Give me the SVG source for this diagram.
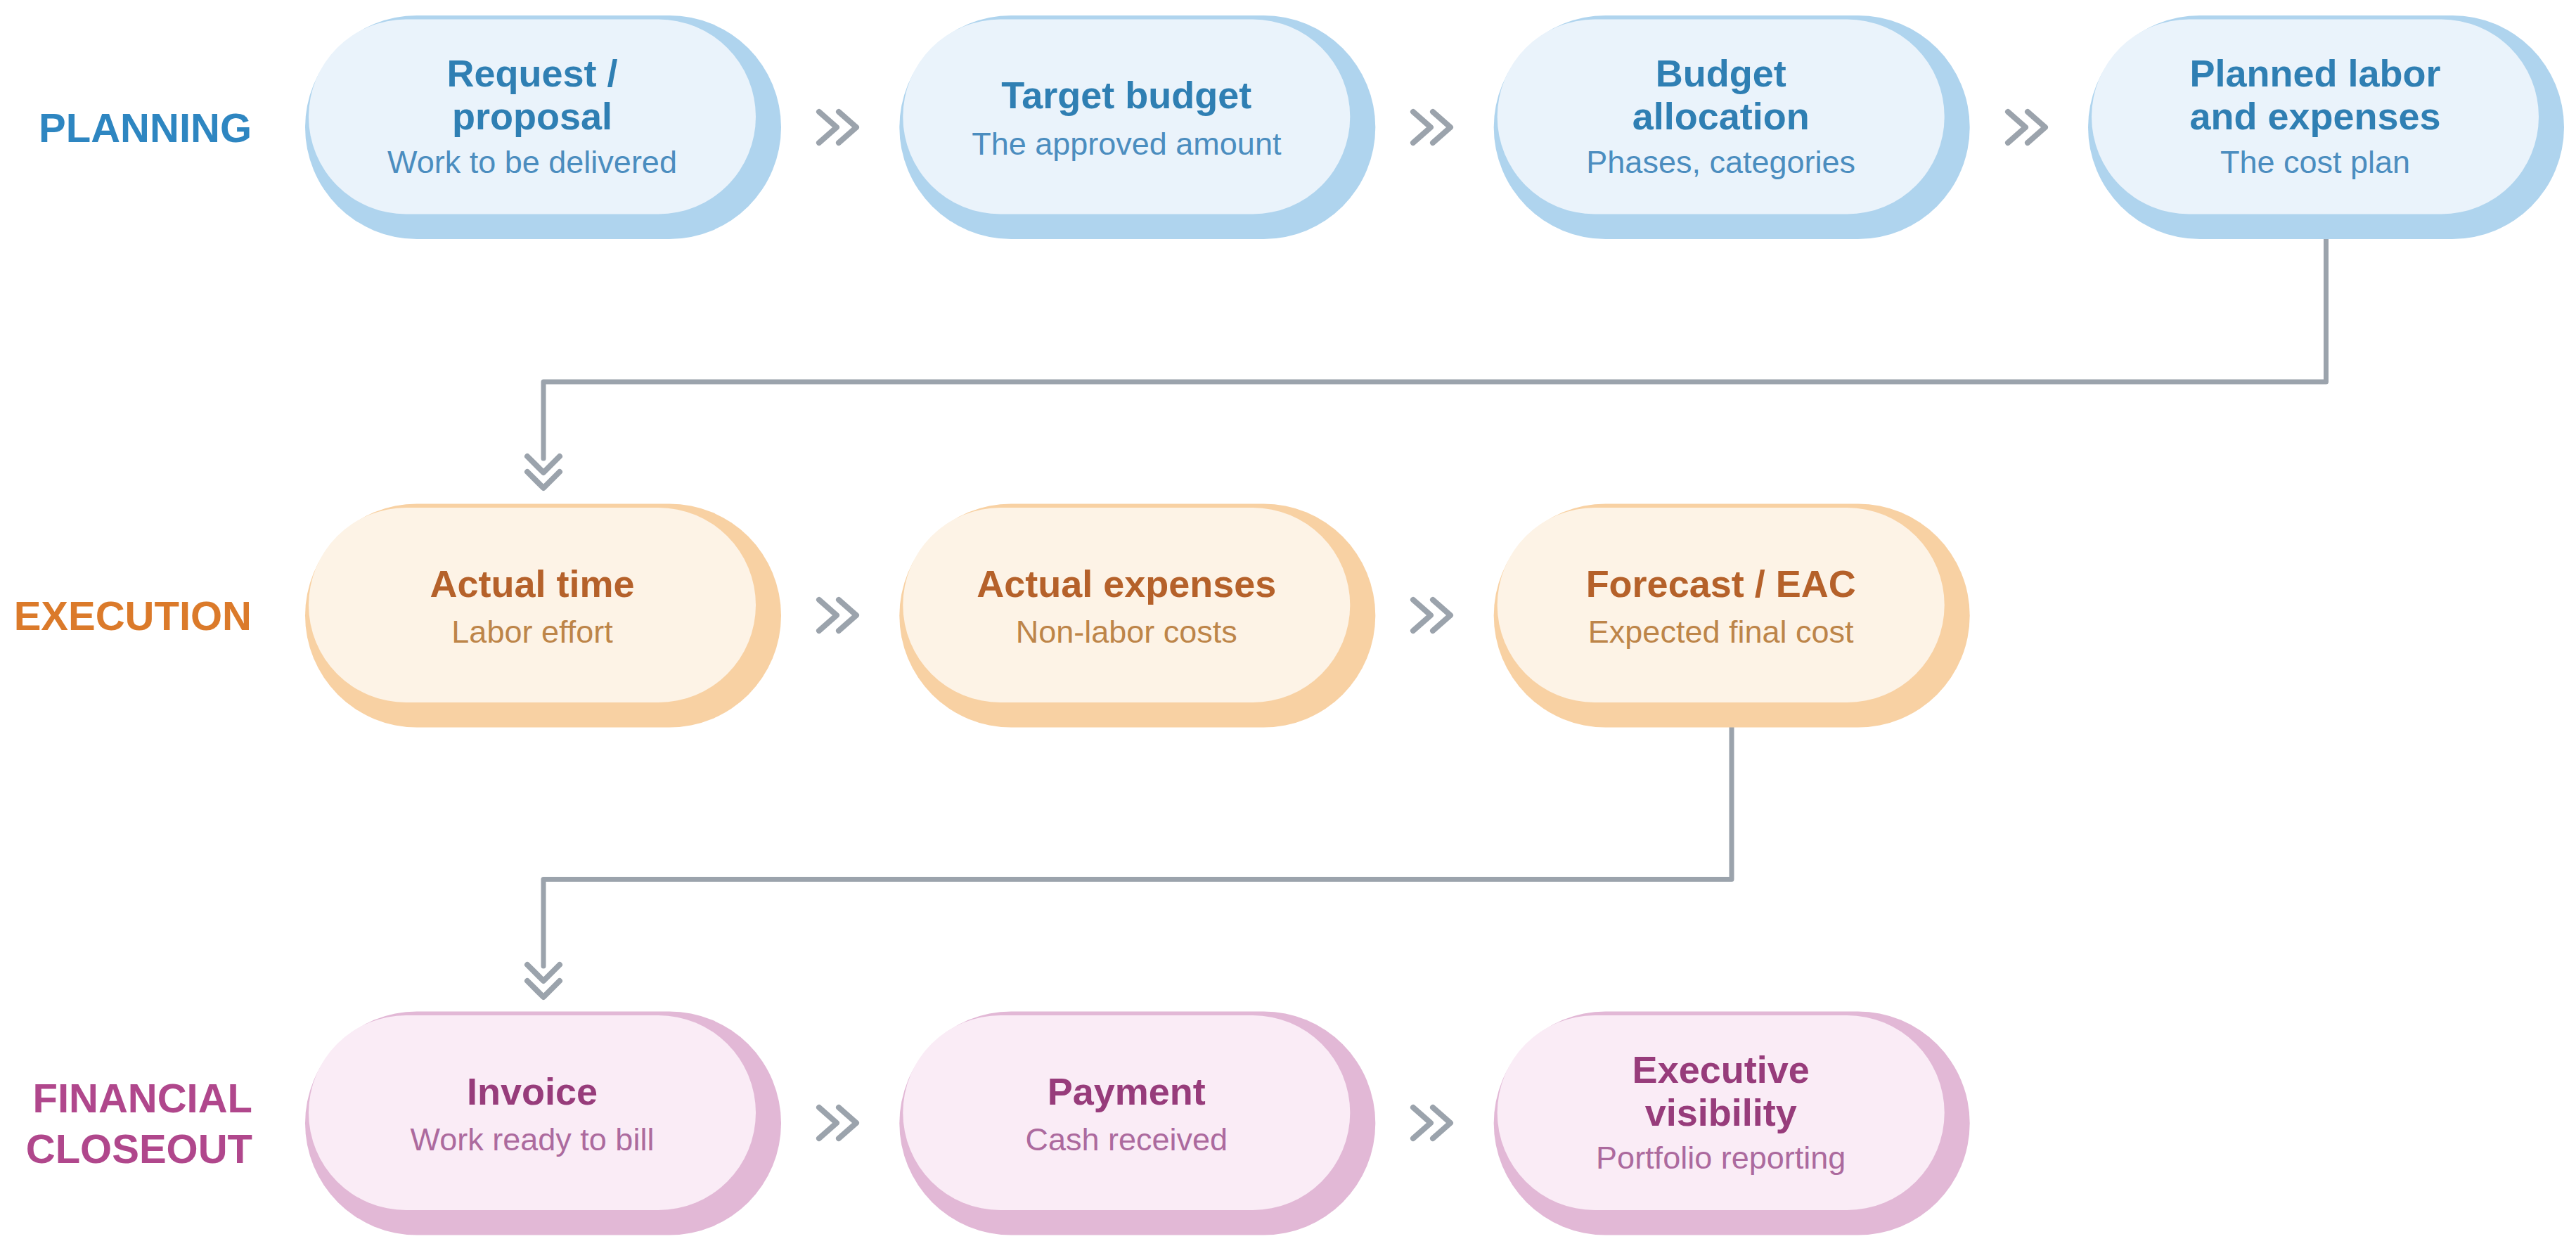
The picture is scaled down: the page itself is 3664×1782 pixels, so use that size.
<svg xmlns="http://www.w3.org/2000/svg" width="3664" height="1782" viewBox="0 0 3664 1782">
<style>
text{font-family:"Liberation Sans",Arial,Helvetica,sans-serif;text-anchor:middle}
.lbl{font-size:58px;font-weight:bold;text-anchor:end}
.t{font-size:54px;font-weight:bold}
.s{font-size:45px}
.conn{fill:none;stroke:#9BA3AC;stroke-width:7;stroke-linecap:round;stroke-linejoin:round}
.chev{stroke-width:8}
.p .bk{fill:#AFD4EE}.p .fr{fill:#EAF3FB}.p .t{fill:#2F7FB3}.p .s{fill:#4B8DBF}
.e .bk{fill:#F8D1A3}.e .fr{fill:#FDF3E6}.e .t{fill:#B5612A}.e .s{fill:#BD8549}
.f .bk{fill:#E2B8D6}.f .fr{fill:#FAECF6}.f .t{fill:#973C7B}.f .s{fill:#AC6A9E}
</style>
<rect width="3664" height="1782" fill="#FFFFFF"/>
<g id="labels">
<text class="lbl" x="358" y="202" fill="#2E86C1">PLANNING</text>
<text class="lbl" x="358" y="896" fill="#DB7A2A">EXECUTION</text>
<text class="lbl" x="359" y="1582" fill="#B0478C">FINANCIAL</text>
<text class="lbl" x="359" y="1654" fill="#B0478C">CLOSEOUT</text>
</g>
<g id="connectors" class="conn">
<path d="M3308.5 340 V543 H773 V652"/>
<path d="M2463 1034 V1250.5 H773 V1374"/>
<path class="chev" d="M750 649 L773 672 L796 649 M750 671 L773 694 L796 671"/>
<path class="chev" d="M750 1372 L773 1395 L796 1372 M750 1395 L773 1418 L796 1395"/>
<path class="chev" d="M1165 159 L1190 181 L1165 203 M1193 159 L1218 181 L1193 203"/>
<path class="chev" d="M2010 159 L2035 181 L2010 203 M2038 159 L2063 181 L2038 203"/>
<path class="chev" d="M2856 159 L2881 181 L2856 203 M2884 159 L2909 181 L2884 203"/>
<path class="chev" d="M1165 853 L1190 875 L1165 897 M1193 853 L1218 875 L1193 897"/>
<path class="chev" d="M2010 853 L2035 875 L2010 897 M2038 853 L2063 875 L2038 897"/>
<path class="chev" d="M1165 1575 L1190 1597 L1165 1619 M1193 1575 L1218 1597 L1193 1619"/>
<path class="chev" d="M2010 1575 L2035 1597 L2010 1619 M2038 1575 L2063 1597 L2038 1619"/>
</g>
<g id="node-request" class="p">
<rect class="bk" x="434" y="22" width="677" height="318" rx="159"/>
<rect class="fr" x="439" y="27.5" width="636" height="277" rx="138.5"/>
<text class="t" x="757" y="123">Request /</text>
<text class="t" x="757" y="184">proposal</text>
<text class="s" x="757" y="246">Work to be delivered</text>
</g>
<g id="node-target" class="p">
<rect class="bk" x="1279.3" y="22" width="677" height="318" rx="159"/>
<rect class="fr" x="1284.3" y="27.5" width="636" height="277" rx="138.5"/>
<text class="t" x="1602.3" y="154">Target budget</text>
<text class="s" x="1602.3" y="220">The approved amount</text>
</g>
<g id="node-allocation" class="p">
<rect class="bk" x="2124.7" y="22" width="677" height="318" rx="159"/>
<rect class="fr" x="2129.7" y="27.5" width="636" height="277" rx="138.5"/>
<text class="t" x="2447.7" y="123">Budget</text>
<text class="t" x="2447.7" y="184">allocation</text>
<text class="s" x="2447.7" y="246">Phases, categories</text>
</g>
<g id="node-planned" class="p">
<rect class="bk" x="2970" y="22" width="677" height="318" rx="159"/>
<rect class="fr" x="2975" y="27.5" width="636" height="277" rx="138.5"/>
<text class="t" x="3293" y="123">Planned labor</text>
<text class="t" x="3293" y="184">and expenses</text>
<text class="s" x="3293" y="246">The cost plan</text>
</g>
<g id="node-actual-time" class="e">
<rect class="bk" x="434" y="716.5" width="677" height="318" rx="159"/>
<rect class="fr" x="439" y="722" width="636" height="277" rx="138.5"/>
<text class="t" x="757" y="848.5">Actual time</text>
<text class="s" x="757" y="914">Labor effort</text>
</g>
<g id="node-actual-expenses" class="e">
<rect class="bk" x="1279.3" y="716.5" width="677" height="318" rx="159"/>
<rect class="fr" x="1284.3" y="722" width="636" height="277" rx="138.5"/>
<text class="t" x="1602.3" y="848.5">Actual expenses</text>
<text class="s" x="1602.3" y="914">Non-labor costs</text>
</g>
<g id="node-forecast" class="e">
<rect class="bk" x="2124.7" y="716.5" width="677" height="318" rx="159"/>
<rect class="fr" x="2129.7" y="722" width="636" height="277" rx="138.5"/>
<text class="t" x="2447.7" y="848.5">Forecast / EAC</text>
<text class="s" x="2447.7" y="914">Expected final cost</text>
</g>
<g id="node-invoice" class="f">
<rect class="bk" x="434" y="1438.5" width="677" height="318" rx="159"/>
<rect class="fr" x="439" y="1444" width="636" height="277" rx="138.5"/>
<text class="t" x="757" y="1570.5">Invoice</text>
<text class="s" x="757" y="1636">Work ready to bill</text>
</g>
<g id="node-payment" class="f">
<rect class="bk" x="1279.3" y="1438.5" width="677" height="318" rx="159"/>
<rect class="fr" x="1284.3" y="1444" width="636" height="277" rx="138.5"/>
<text class="t" x="1602.3" y="1570.5">Payment</text>
<text class="s" x="1602.3" y="1636">Cash received</text>
</g>
<g id="node-executive" class="f">
<rect class="bk" x="2124.7" y="1438.5" width="677" height="318" rx="159"/>
<rect class="fr" x="2129.7" y="1444" width="636" height="277" rx="138.5"/>
<text class="t" x="2447.7" y="1539.5">Executive</text>
<text class="t" x="2447.7" y="1600.5">visibility</text>
<text class="s" x="2447.7" y="1662">Portfolio reporting</text>
</g>
</svg>
